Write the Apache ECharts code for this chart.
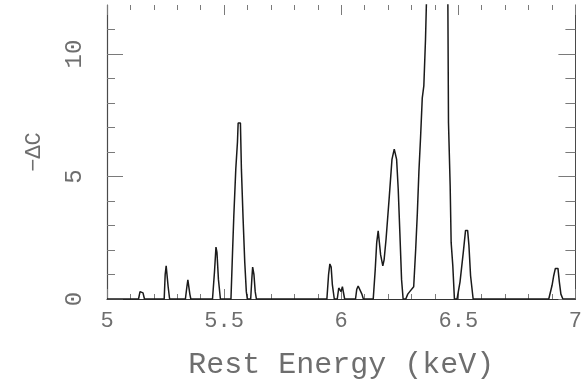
<!DOCTYPE html>
<html>
<head>
<meta charset="utf-8">
<script src="https://cdn.jsdelivr.net/npm/echarts@6/dist/echarts.min.js"></script>
<style>html,body{margin:0;padding:0;background:#fff}#c{width:585px;height:385px}</style>
</head>
<body>
<div id="c"></div>
<script>
// Rest energy (keV)
const energy = [
5.0, 5.1347, 5.141, 5.1495, 5.1537, 5.16,
5.2442, 5.2484, 5.2526, 5.2568, 5.2611, 5.2674,
5.3347, 5.3411, 5.3453, 5.3495, 5.3537, 5.3579,
5.4505, 5.4589, 5.4653, 5.4695, 5.4758, 5.4842,
5.5293, 5.536, 5.5415, 5.5499, 5.557, 5.56, 5.5697, 5.5739, 5.581, 5.5882, 5.5949, 5.5992,
5.6135, 5.6189, 5.6219, 5.6274, 5.6328, 5.6379,
5.9389, 5.9461, 5.9516, 5.9571, 5.9621, 5.9705,
5.9832, 5.9895, 5.9937, 5.9992, 6.0051, 6.0093, 6.0147,
6.0611, 6.0665, 6.0724, 6.08, 6.0884, 6.0947,
6.1368, 6.1453, 6.1516, 6.1579, 6.1621, 6.1684, 6.1777, 6.1832, 6.1916, 6.2055, 6.2168, 6.2265, 6.2366, 6.2434, 6.2505, 6.2577, 6.2644,
6.2758, 6.2842, 6.2926, 6.3011, 6.3095,
6.3179, 6.3251, 6.3318, 6.3389, 6.3461, 6.3528, 6.36, 6.3642, 6.3811, 6.4021, 6.4274, 6.4442, 6.4547, 6.4581, 6.4653, 6.4695, 6.4766, 6.4834,
6.4947, 6.5074, 6.5213, 6.5309, 6.5398, 6.5453, 6.5524, 6.5634,
6.7768, 6.7853, 6.7937,
6.8863, 6.9002, 6.9074, 6.9145, 6.9255, 6.9314, 6.9381, 6.9465,
7.0
];
// -ΔC
const deltaC = [
0, 0, 0.3, 0.33, 0.25, 0,
0, 1.0, 1.35, 1.3, 0.5, 0,
0, 0.5, 0.78, 0.7, 0.2, 0,
0, 1.1, 2.12, 1.9, 0.8, 0,
0, 1.9, 3.4, 5.3, 6.4, 7.18, 7.18, 5.3, 3.3, 1.5, 0.3, 0,
0, 0.9, 1.3, 1.0, 0.3, 0,
0, 1.0, 1.43, 1.3, 0.6, 0,
0, 0.45, 0.53, 0.3, 0.5, 0.45, 0,
0, 0.4, 0.53, 0.5, 0.2, 0,
0, 1.2, 2.3, 2.78, 2.7, 1.8, 1.35, 1.6, 2.45, 4.2, 5.7, 6.12, 5.7, 4.5, 2.7, 0.8, 0,
0, 0.2, 0.3, 0.35, 0.5,
2.0, 3.5, 5.2, 6.6, 8.2, 8.7, 10.6, 12.2, 13.8, 15.2, 15.8, 15.0, 13.5, 7.2, 4.6, 2.3, 1.35, 0,
0, 0.7, 1.9, 2.8, 2.8, 2.2, 0.95, 0,
0, 0.06, 0,
0, 0.55, 0.95, 1.25, 1.25, 0.7, 0.2, 0,
0
];
const xTickLabels = [5, 5.5, 6, 6.5, 7];
const yMajorTicks = [0, 5, 10];
const yMinorTicks = [1, 2, 3, 4, 6, 7, 8, 9, 11];

const FONT = 'Liberation Mono';
const TXT = '#6e6e6e';
const LINE = '#4a4a4a';
const TICK = '#7a7a7a';

const chart = echarts.init(document.getElementById('c'), null, {renderer: 'canvas'});
const pts = energy.map((e, i) => [e, deltaC[i]]);

const yBase = {type: 'value', min: 0, max: 12, interval: 1, splitLine: {show: false}};
chart.setOption({
  animation: false,
  backgroundColor: '#ffffff',
  grid: {left: 107, right: 2, top: 5, bottom: 85, containLabel: false},
  xAxis: [
    {
      type: 'value', position: 'bottom', min: 5, max: 7, interval: 0.5,
      axisLine: {show: true, onZero: false, lineStyle: {color: '#333', width: 1.2}},
      axisTick: {show: true, inside: true, length: 10, customValues: xTickLabels, lineStyle: {color: TICK}},
      minorTick: {show: true, splitNumber: 5, length: 5, lineStyle: {color: TICK}},
      axisLabel: {customValues: xTickLabels, margin: 11, fontFamily: FONT, fontSize: 22, color: TXT,
        formatter: v => String(v)},
      splitLine: {show: false},
      name: 'Rest Energy (keV)', nameLocation: 'middle', nameGap: 51,
      nameTextStyle: {fontFamily: FONT, fontSize: 30, color: TXT}
    },
    {
      type: 'value', position: 'top', min: 5, max: 7, interval: 0.5,
      axisLine: {show: true, onZero: false, lineStyle: {color: 'rgba(255,255,255,0)', width: 1}},
      axisTick: {show: true, inside: true, length: 10, lineStyle: {color: TICK}},
      minorTick: {show: true, splitNumber: 5, length: 5, lineStyle: {color: TICK}},
      axisLabel: {show: false},
      splitLine: {show: false}
    }
  ],
  yAxis: [
    Object.assign({}, yBase, {
      position: 'left',
      axisLine: {show: true, onZero: false, lineStyle: {color: LINE, width: 1.2}},
      axisTick: {show: true, inside: true, length: 16, customValues: yMajorTicks, lineStyle: {color: TICK}},
      axisLabel: {show: true, customValues: yMajorTicks, rotate: 90, margin: 20,
        fontFamily: FONT, fontSize: 24, color: TXT, formatter: v => String(v)},
      name: '\u2212\u0394C', nameLocation: 'middle', nameRotate: 90, nameGap: 62,
      nameTextStyle: {fontFamily: FONT, fontSize: 22, color: TXT}
    }),
    Object.assign({}, yBase, {
      position: 'left',
      axisLine: {show: false, onZero: false},
      axisTick: {show: true, inside: true, length: 8, customValues: yMinorTicks, lineStyle: {color: TICK}},
      axisLabel: {show: false}
    }),
    Object.assign({}, yBase, {
      position: 'right',
      axisLine: {show: true, onZero: false, lineStyle: {color: LINE, width: 1}},
      axisTick: {show: true, inside: true, length: 17, customValues: yMajorTicks, lineStyle: {color: TICK}},
      axisLabel: {show: false}
    }),
    Object.assign({}, yBase, {
      position: 'right',
      axisLine: {show: false, onZero: false},
      axisTick: {show: true, inside: true, length: 10, customValues: yMinorTicks, lineStyle: {color: TICK}},
      axisLabel: {show: false}
    })
  ],
  series: [{
    type: 'line',
    xAxisIndex: 0, yAxisIndex: 0,
    data: pts,
    showSymbol: false,
    symbol: 'none',
    clip: true,
    lineStyle: {color: '#1a1a1a', width: 1.5},
    z: 3
  }]
});
</script>
</body>
</html>
